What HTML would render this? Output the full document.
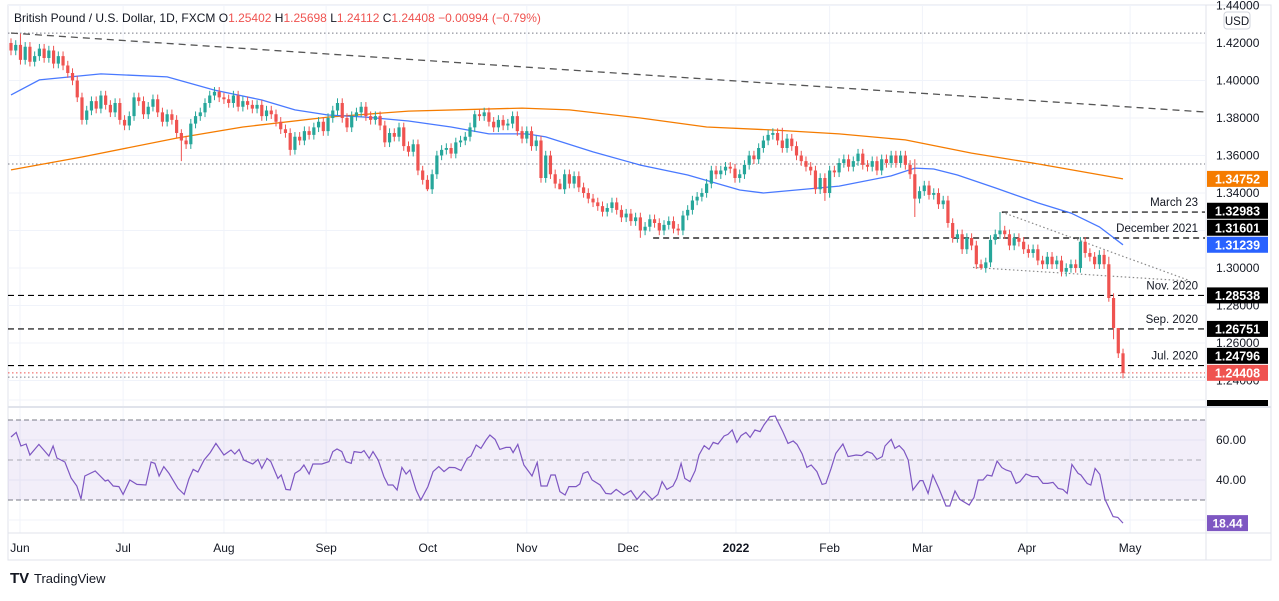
<!DOCTYPE html>
<html><head><meta charset="utf-8">
<style>
html,body{margin:0;padding:0;background:#fff;}
body{width:1279px;height:596px;overflow:hidden;font-family:"Liberation Sans",sans-serif;}
svg text{font-family:"Liberation Sans",sans-serif;}
</style></head>
<body>
<svg id="chart" width="1279" height="596" xmlns="http://www.w3.org/2000/svg">
  <rect x="8" y="5" width="1263" height="555" fill="#fff" stroke="#e0e3eb"/>
  <g id="grid"></g>
  <rect x="8" y="420" width="1198" height="80" fill="#7e57c2" fill-opacity="0.1"/>
  <g id="marks"></g>
  <line x1="1206" y1="5" x2="1206" y2="560" stroke="#e0e3eb"/>
  <g id="axes"></g>
  <line x1="8" y1="407" x2="1271" y2="407" stroke="#e0e3eb" stroke-width="2"/>
  <line x1="8" y1="533" x2="1271" y2="533" stroke="#e0e3eb"/>
  <text x="14" y="22" font-size="12" fill="#131722">British Pound / U.S. Dollar, 1D, FXCM  O<tspan fill="#ef5350">1.25402</tspan>  H<tspan fill="#ef5350">1.25698</tspan>  L<tspan fill="#ef5350">1.24112</tspan>  C<tspan fill="#ef5350">1.24408</tspan>  <tspan fill="#ef5350">−0.00994 (−0.79%)</tspan></text>
  <rect x="1224" y="12" width="26" height="17" rx="3" fill="#fff" stroke="#d1d4dc"/>
  <text x="1237" y="25" font-size="11.5" fill="#131722" text-anchor="middle">USD</text>
  <g>
    <text x="10" y="583" font-size="15" font-weight="bold" fill="#131722">TV</text>
    <text x="34" y="583" font-size="13" fill="#131722">TradingView</text>
  </g>
</svg>
<script>
// ---------- data ----------
const closes = [
1.416,1.419,1.411,1.418,1.410,1.413,1.417,1.412,1.416,1.409,
1.413,1.408,1.404,1.400,1.391,1.379,1.384,1.389,1.385,1.392,
1.387,1.383,1.388,1.379,1.376,1.381,1.391,1.389,1.382,1.386,
1.390,1.383,1.378,1.382,1.379,1.372,1.368,1.366,1.377,1.381,
1.383,1.388,1.392,1.394,1.391,1.390,1.388,1.392,1.386,1.389,
1.387,1.385,1.387,1.381,1.384,1.382,1.378,1.374,1.372,1.363,
1.370,1.368,1.373,1.371,1.375,1.378,1.373,1.380,1.384,1.388,
1.380,1.375,1.381,1.383,1.386,1.381,1.379,1.381,1.376,1.367,
1.372,1.370,1.375,1.365,1.362,1.366,1.352,1.347,1.342,1.350,
1.360,1.363,1.364,1.361,1.367,1.368,1.370,1.375,1.382,1.381,
1.383,1.378,1.375,1.379,1.376,1.377,1.381,1.373,1.369,1.373,
1.365,1.368,1.348,1.360,1.350,1.345,1.342,1.350,1.345,1.349,
1.343,1.340,1.337,1.335,1.333,1.330,1.332,1.335,1.331,1.327,
1.329,1.325,1.327,1.320,1.322,1.326,1.324,1.320,1.323,1.325,
1.321,1.320,1.328,1.331,1.336,1.338,1.340,1.345,1.352,1.350,
1.352,1.354,1.353,1.348,1.350,1.355,1.360,1.358,1.364,1.368,
1.371,1.372,1.368,1.364,1.369,1.365,1.360,1.357,1.354,1.352,
1.342,1.348,1.340,1.352,1.351,1.356,1.358,1.354,1.357,1.361,
1.355,1.354,1.357,1.352,1.358,1.356,1.360,1.356,1.360,1.355,
1.350,1.337,1.341,1.344,1.339,1.340,1.334,1.336,1.324,1.316,
1.318,1.310,1.316,1.312,1.302,1.300,1.303,1.315,1.318,1.320,
1.318,1.312,1.316,1.314,1.310,1.308,1.310,1.304,1.302,1.306,
1.302,1.304,1.298,1.300,1.302,1.300,1.314,1.308,1.306,1.302,
1.307,1.302,1.284,1.268,1.2545,1.24408];
const firstOpen = 1.420;
const wickDefault = 0.0025;
const highIdx = [2, 36, 98, 163, 191, 209, 232, 234, 235];
const highVal = [1.4250, 1.3740, 1.3840, 1.3748, 1.3580, 1.32983, 1.3060, 1.2675, 1.25698];
const lowIdx  = [36, 59, 88, 116, 133, 172, 191, 205, 232, 233, 235];
const lowVal  = [1.3570, 1.3600, 1.3410, 1.3420, 1.3161, 1.3358, 1.3272, 1.2990, 1.2820, 1.2620, 1.24112];

const ma50Idx = [0,6,19,33,43,53,60,67,75,84,93,101,109,113,123,133,143,154,159,168,175,186,191,195,200,208,217,224,230,235];
const ma50Val = [1.3923,1.4003,1.4035,1.4019,1.3949,1.3896,1.3843,1.3816,1.3805,1.3784,1.3752,1.3715,1.3715,1.3699,1.3619,1.3549,1.3496,1.3416,1.3400,1.3421,1.3437,1.3491,1.3533,1.3528,1.3496,1.3427,1.3347,1.3293,1.3219,1.31239];
const ma200Idx = [0,15,35,49,67,84,108,118,133,147,161,175,189,203,217,235];
const ma200Val = [1.3523,1.3592,1.3693,1.3752,1.3805,1.3837,1.3853,1.3843,1.3800,1.3752,1.3736,1.3715,1.3683,1.3613,1.3555,1.34752];

const rsiIdx = [0,1.1,2.1,3.2,4,5.9,8,8.9,9.7,11.4,12.7,13.9,14.8,15.6,17.8,19.9,20.5,21.6,22.8,23.7,25.1,26.6,28.5,29.6,30.4,31.3,32.3,33.4,35.3,36.6,37.6,38.5,39.5,40.8,42.1,43.3,45,46.5,47.3,48.2,49.2,51.1,52.2,53,54.1,54.9,56.4,57.1,58.1,59,60,61.1,61.9,63,63.8,65.7,67.2,68,68.9,69.9,70.8,71.9,72.5,74,74.6,75.7,76.5,77.6,78.8,79.7,80.7,81.6,82.6,83.5,84.3,85.6,86.6,88.1,89.2,90.4,91.5,92.6,93.8,95.1,96.4,97.2,98.3,99.3,100.4,101.2,102.3,103.3,104.6,105.5,106.1,107.1,108.4,110.1,111.2,112,113.3,114.1,115,116,117.1,117.9,119.4,120.2,120.9,121.9,122.8,124.5,125.7,126.8,127.9,129.5,131,132.3,133.8,135.5,136.7,137.6,138.6,139.9,140.7,141.6,142.4,143.5,144.6,145.4,146.5,147.5,148.4,149.4,150.7,151.5,152.4,153.4,154.3,155.3,156.2,157.2,158.3,159.1,160.4,161.5,162.3,163.1,164.2,165.3,166.1,167.2,168.2,169.1,170.3,171.4,172.2,173.3,174.3,175.8,176.9,178.6,179.8,180.9,182,183,184.1,184.7,186,186.8,187.7,188.7,189.6,190.6,192.1,192.7,193.8,194.8,196.1,197.6,198.4,199.5,200.5,202.5,203.5,204.4,205.4,206.3,207.3,208.4,209.4,210.3,211.3,212.4,213.2,214.5,215.8,217,218.1,219.1,220.2,221.3,222.3,223.2,224.2,225.5,226.1,227.4,228.2,229.1,230.1,231.2,232.9,233.9,235];
const rsiVal = [61.5,63.8,57,58,52.5,57.8,52,57,51,49,41,37,30.5,42,44.5,39.5,40,37,36.7,32.8,40,37.8,37.5,49,48.3,42,46.7,43.3,35.8,32.8,40.5,45.3,44,50,53.7,58.3,52.5,55,53,55.3,50,48,50.3,45.8,50.8,49.2,40.8,42.5,35.3,35,43.3,45,47.5,43,48,48,49.2,54.2,55.5,54.2,49.2,48.3,54.2,53.7,54.7,50.8,54.2,50,41.7,37.5,37.5,35,46.3,43,45,35,30,36.7,44.2,46.7,44.2,46.3,46.2,44.7,50.8,52,57.5,55.8,60,62.5,60.3,55.3,56.3,56.3,53.7,57.8,47.5,42,48.8,37,37,42.5,42.5,34.2,32.5,36.7,36.7,38,43.3,44.2,40,37.5,33.3,33,35.3,32.5,34.7,30.3,34.5,30.3,32.8,39.2,35.3,37,40.8,48.3,40.8,39.2,44.7,52.5,57.2,55.3,58.8,58,62,62.8,65,58.8,62.2,63.8,61.3,65,64.2,67.5,71.7,72,68,64.2,58.3,59.5,57.8,53,46.3,47.5,44.2,37.8,38.3,45.8,53.3,58,51.7,52.5,52.2,54.2,53.3,50.3,51.7,57,60.3,55.8,57.2,54.7,50,35,39.7,39.7,33.3,42.5,35.8,27,27,34.5,30.3,27.5,31.3,40,40,42.5,42,49.5,46.2,45,44.2,38.3,39.2,43,41.7,41.7,38.3,38.3,38.8,35.8,35.3,33.3,47.8,43.3,42.5,38.3,37.5,45.8,42.8,30.3,21.7,21.3,18.44];

const priceTicks = [1.44,1.42,1.40,1.38,1.36,1.34,1.32,1.30,1.28,1.26,1.24];
const rsiTicks = [60,40];
const monthLabels = ["Jun","Jul","Aug","Sep","Oct","Nov","Dec","2022","Feb","Mar","Apr","May"];
const monthIdx = [1.9,23.7,45,66.6,88.1,109,130.4,153.2,173,192.6,214.7,236.5];

const levelVal = [1.32983,1.31601,1.28538,1.26751,1.24796];
const levelStart = [209.4,135.7,-1.7,-1.7,-1.7];
const levelLabel = ["March 23","December 2021","Nov. 2020","Sep. 2020","Jul. 2020"];
const trendStartIdx = 0, trendStartVal = 1.4253, trendEndIdx = 252.3, trendEndVal = 1.3832;
const wedgeUpper = [209.4,1.3298,248.7,1.2936];
const wedgeLower = [203.3,1.3003,248.7,1.2931];
const dottedLevels = [1.4253,1.3555,1.2418];
const lastPrice = 1.24408;

const badgeVals = [1.34752,1.32983,1.31601,1.31239,1.28538,1.26751,1.24796,1.24408];
const badgeCols = ["#f57c00","#000","#000","#2962ff","#000","#000","#000","#ef5350"];

// ---------- scales ----------
const X0 = 11, STEP = 4.732, PLOT_R = 1205;
const xOf = i => X0 + i * STEP;
const yP = p => 43 + (1.42 - p) * 1875;
const yR = v => 480 - (v - 40) * 2;
const NS = "http://www.w3.org/2000/svg";
function mk(tag, attrs, parent) {
  const e = document.createElementNS(NS, tag);
  for (const k in attrs) e.setAttribute(k, attrs[k]);
  parent.appendChild(e);
  return e;
}
const grid = document.getElementById("grid");
const marks = document.getElementById("marks");
const axes = document.getElementById("axes");

priceTicks.forEach(p => {
  const l = mk("line", {x1: 8, x2: PLOT_R, y1: yP(p), y2: yP(p), stroke: "#f0f3fa"}, grid);
  
  
});
[80, 60, 40, 20].forEach(v => {
  const l = mk("line", {x1: 8, x2: PLOT_R, y1: yR(v), y2: yR(v), stroke: "#f0f3fa"}, grid);
  
  
});
monthIdx.forEach(i => {
  const l = mk("line", {x1: xOf(i), x2: xOf(i), y1: 5, y2: 533, stroke: "#f0f3fa"}, grid);
  
  
});

dottedLevels.forEach(p => {
  const l = mk("line", {x1: 8, x2: PLOT_R, y1: yP(p), y2: yP(p), stroke: "#787b86", "stroke-dasharray": "1.5,2.5"}, marks);
  
  
});
const lp = mk("line", {x1: 8, x2: PLOT_R, y1: yP(lastPrice), y2: yP(lastPrice), stroke: "#ef5350", "stroke-dasharray": "1.5,2.5"}, marks);



const tl = mk("line", {x1: xOf(trendStartIdx), y1: yP(trendStartVal), x2: Math.min(xOf(trendEndIdx), PLOT_R), y2: yP(trendEndVal), stroke: "#555", "stroke-width": 1.3, "stroke-dasharray": "7,5"}, marks);



[wedgeUpper, wedgeLower].forEach(w => {
  const l = mk("line", {x1: xOf(w[0]), y1: yP(w[1]), x2: xOf(w[2]), y2: yP(w[3]), stroke: "#888", "stroke-width": 1.2, "stroke-dasharray": "1.5,2.5"}, marks);
  
  
});

levelVal.forEach((p, k) => {
  const l = mk("line", {x1: Math.max(8, xOf(levelStart[k])), x2: PLOT_R, y1: yP(p), y2: yP(p), stroke: "#000", "stroke-width": 1.2, "stroke-dasharray": "6,4"}, marks);
  
  
  const t = mk("text", {x: 1198, y: yP(p) - 6, "font-size": 11.5, fill: "#131722", "text-anchor": "end"}, marks);
  t.textContent = levelLabel[k];
  
  
});

function maPath(idx, val) {
  return idx.map((i, k) => (k ? "L" : "M") + xOf(i).toFixed(1) + "," + yP(val[k]).toFixed(1)).join("");
}
const m200 = mk("path", {d: maPath(ma200Idx, ma200Val), fill: "none", stroke: "#f57c00", "stroke-width": 1.3}, marks);


const m50 = mk("path", {d: maPath(ma50Idx, ma50Val), fill: "none", stroke: "#2962ff", "stroke-width": 1.3, "stroke-opacity": 0.85}, marks);



closes.forEach((c, i) => {
  const o = i === 0 ? firstOpen : closes[i - 1];
  let h = Math.max(o, c) + wickDefault, lo = Math.min(o, c) - wickDefault;
  const hk = highIdx.indexOf(i); if (hk >= 0) h = highVal[hk];
  const lk = lowIdx.indexOf(i); if (lk >= 0) lo = lowVal[lk];
  const col = c >= o ? "#26a69a" : "#ef5350";
  const x = xOf(i);
  const g = mk("g", {}, marks);
  
  
  mk("line", {x1: x, x2: x, y1: yP(h), y2: yP(lo), stroke: col, "stroke-width": 1}, g);
  const top = yP(Math.max(o, c)), bot = yP(Math.min(o, c));
  mk("rect", {x: x - 1.6, y: top, width: 3.2, height: Math.max(1, bot - top), fill: col}, g);
});

[70, 50, 30].forEach(v => {
  const l = mk("line", {x1: 8, x2: PLOT_R, y1: yR(v), y2: yR(v), stroke: "#787b86", "stroke-dasharray": v === 50 ? "5,4" : "5,3", "stroke-opacity": v === 50 ? 0.6 : 1}, marks);
  
  
});
const rsiLine = mk("path", {d: rsiIdx.map((i, k) => (k ? "L" : "M") + xOf(i).toFixed(1) + "," + yR(rsiVal[k]).toFixed(1)).join(""), fill: "none", stroke: "#7e57c2", "stroke-width": 1.2}, marks);



priceTicks.forEach(p => {
  const t = mk("text", {x: 1216, y: yP(p) + 4, "font-size": 12, fill: "#131722"}, axes);
  t.textContent = p.toFixed(5);
  
  
});
rsiTicks.forEach(v => {
  const t = mk("text", {x: 1216, y: yR(v) + 4, "font-size": 12, fill: "#131722"}, axes);
  t.textContent = v.toFixed(2);
  
  
});
monthLabels.forEach((m, k) => {
  const t = mk("text", {x: xOf(monthIdx[k]), y: 552, "font-size": 12, fill: "#131722", "text-anchor": "middle", "font-weight": m === "2022" ? "bold" : "normal"}, axes);
  t.textContent = m;
  
  
});

// badges: resolve overlaps bottom-up (push upper badge up)
const centers = badgeVals.map(p => yP(p));
for (let k = centers.length - 1; k > 0; k--) {
  if (centers[k] - centers[k - 1] < 17) centers[k - 1] = centers[k] - 17;
}
badgeVals.forEach((p, k) => {
  const cy = centers[k];
  const g = mk("g", {}, axes);
  
  
  mk("rect", {x: 1207, y: cy - 8, width: 61, height: 16, fill: badgeCols[k]}, g);
  const t = mk("text", {x: 1237.5, y: cy + 4.5, "font-size": 12.5, "font-weight": "bold", fill: "#fff", "text-anchor": "middle"}, g);
  t.textContent = p.toFixed(5);
});
const cb = mk("g", {}, axes);


mk("rect", {x: 1207, y: 400, width: 61, height: 7, fill: "#000"}, cb);
mk("rect", {x: 1207, y: 408, width: 62, height: 10, fill: "#fff"}, axes);

const rb = mk("g", {}, axes);


mk("rect", {x: 1207, y: yR(rsiVal[rsiVal.length - 1]) - 8, width: 41, height: 16, fill: "#7e57c2"}, rb);
const rt = mk("text", {x: 1227.5, y: yR(rsiVal[rsiVal.length - 1]) + 4.5, "font-size": 12, "font-weight": "bold", fill: "#fff", "text-anchor": "middle"}, rb);
rt.textContent = rsiVal[rsiVal.length - 1].toFixed(2);
</script>
</body></html>
